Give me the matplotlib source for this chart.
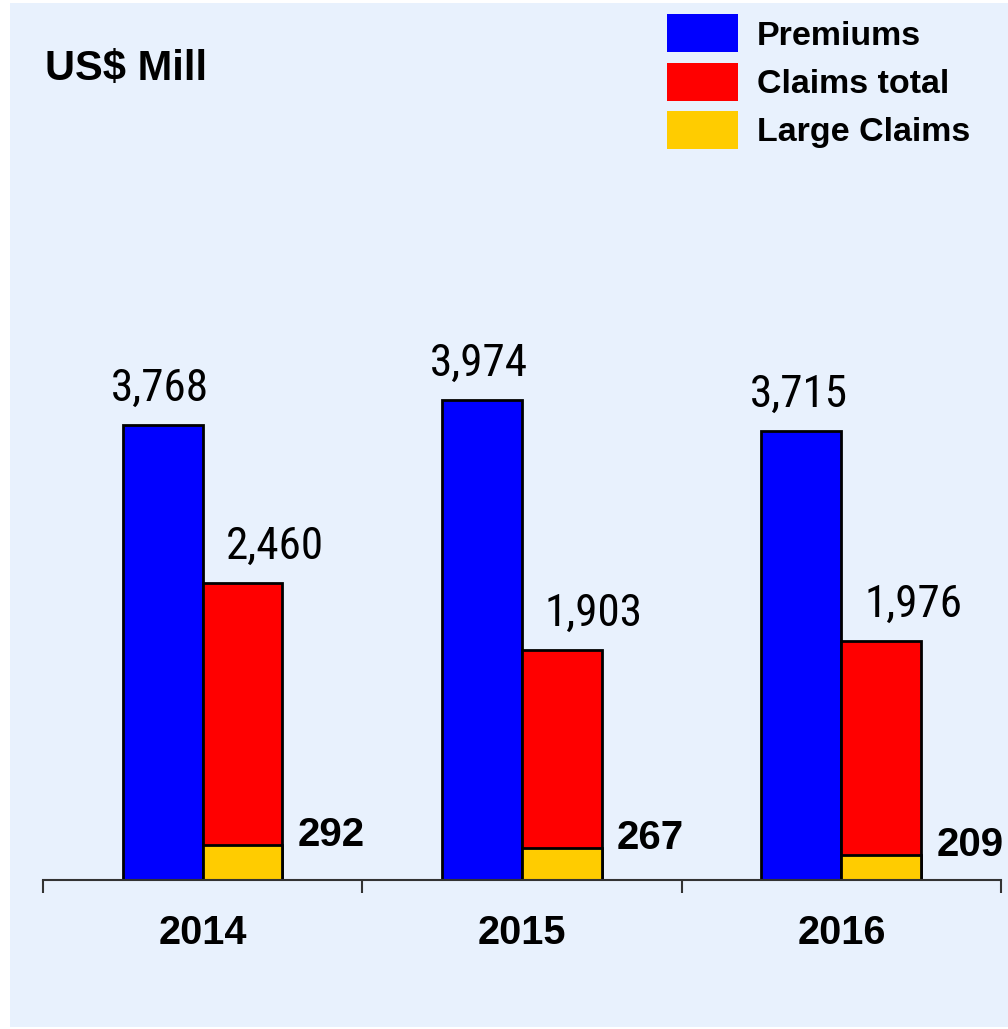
import matplotlib
matplotlib.use("Agg")
import matplotlib.pyplot as plt
from matplotlib import font_manager as fm
from matplotlib.patches import Rectangle
import numpy as np

# data
years = ["2014", "2015", "2016"]
premiums = [3768, 3974, 3715]
claims_total = [2460, 1903, 1976]
large_claims = [292, 267, 209]
series_names = ["Premiums", "Claims total", "Large Claims"]

plt.rcParams['font.family'] = ['Liberation Sans', 'DejaVu Sans']

# look for a narrow/condensed face for the value labels, narrowest families first
def find_narrow():
    fonts = [f for f in fm.fontManager.ttflist
             if f.style == "normal" and f.weight in (400, 500, "normal", "regular", "medium")]
    for key in ["Liberation Sans Narrow", "Arial Narrow", "Roboto Condensed", "Open Sans Condensed",
                "Noto Sans Condensed", "Narrow", "Condensed"]:
        for f in fonts:
            if key in f.name:
                return f.fname, key
    for f in fonts:
        if f.stretch in ("condensed", "semi-condensed", "extra-condensed"):
            return f.fname, f.name
    return None, None

narrow_file, narrow_name = find_narrow()
if narrow_file and "DejaVu" not in narrow_name and narrow_name != "Condensed":
    num_prop = fm.FontProperties(fname=narrow_file, size=32.5)
elif narrow_file:
    num_prop = fm.FontProperties(fname=narrow_file, size=30)
else:
    num_prop = fm.FontProperties(family="DejaVu Sans", size=26)

W, H = 1008, 1029
fig = plt.figure(figsize=(W / 100, H / 100), dpi=100, facecolor="white")

# light blue panel behind everything
bg = Rectangle((10 / W, 1 - 1027 / H), (W - 10) / W, (1027 - 3) / H,
               transform=fig.transFigure, facecolor="#e8f1fd", edgecolor="none", zorder=-10)
fig.patches.append(bg)

# axes: x from 43 to 1001 px, baseline at y=880 px
px_per_unit = 455 / 3768
ax_left, ax_right = 43, 1001
ax_bottom, ax_top = 880, 3
ax = fig.add_axes([ax_left / W, 1 - ax_bottom / H, (ax_right - ax_left) / W, (ax_bottom - ax_top) / H])
ax.set_facecolor("none")
ax.set_xlim(-0.5, 2.5)
ax.set_ylim(0, (ax_bottom - ax_top) / px_per_unit)

x = np.arange(len(years))
bw = 0.25
b1 = ax.bar(x - bw / 2, premiums, bw, color="#0000ff", edgecolor="black", linewidth=2, label=series_names[0])
b2 = ax.bar(x + bw / 2, claims_total, bw, color="#ff0000", edgecolor="black", linewidth=2, label=series_names[1])
b3 = ax.bar(x + bw / 2, large_claims, bw, color="#ffcc00", edgecolor="black", linewidth=2, label=series_names[2])

for s in ["left", "right", "top"]:
    ax.spines[s].set_visible(False)
ax.spines["bottom"].set_color("#333333")
ax.spines["bottom"].set_linewidth(1.5)
ax.set_yticks([])
ax.set_xticks([-0.5, 0.5, 1.5, 2.5])
ax.set_xticklabels([])
ax.tick_params(axis="x", direction="out", length=9.5, width=1.5, color="#333333")

for i in range(len(years)):
    ax.annotate(f"{premiums[i]:,}", (x[i] - bw / 2, premiums[i]), xytext=(-2, 26),
                textcoords="offset points", ha="center", va="center", fontproperties=num_prop)
    ax.annotate(f"{claims_total[i]:,}", (x[i] + bw / 2, claims_total[i]), xytext=(23, 26),
                textcoords="offset points", ha="center", va="center", fontproperties=num_prop)
    ax.annotate(f"{large_claims[i]}", (x[i] + bw, large_claims[i]), xytext=(11, 7),
                textcoords="offset points", ha="left", va="center", fontsize=29, fontweight="bold")
    ax.annotate(years[i], (x[i], 0), xycoords=("data", "axes fraction"), xytext=(0, -38),
                textcoords="offset points", ha="center", va="center", fontsize=28.5, fontweight="bold")

fig.text(45 / W, 1 - 69 / H, "US$ Mill", fontsize=30, fontweight="bold", ha="left", va="center")

leg = fig.legend(handles=[b1, b2, b3], labels=series_names, loc="upper left",
                 bbox_to_anchor=(653 / W, 1 - 0.5 / H), frameon=False,
                 prop=dict(size=24.5, weight="bold"), handlelength=2.1, handleheight=1.35,
                 handletextpad=0.55, labelspacing=0.3, borderaxespad=0)
for h in leg.legend_handles:
    h.set_edgecolor("none")

fig.savefig("out.png", dpi=100, facecolor="white")
